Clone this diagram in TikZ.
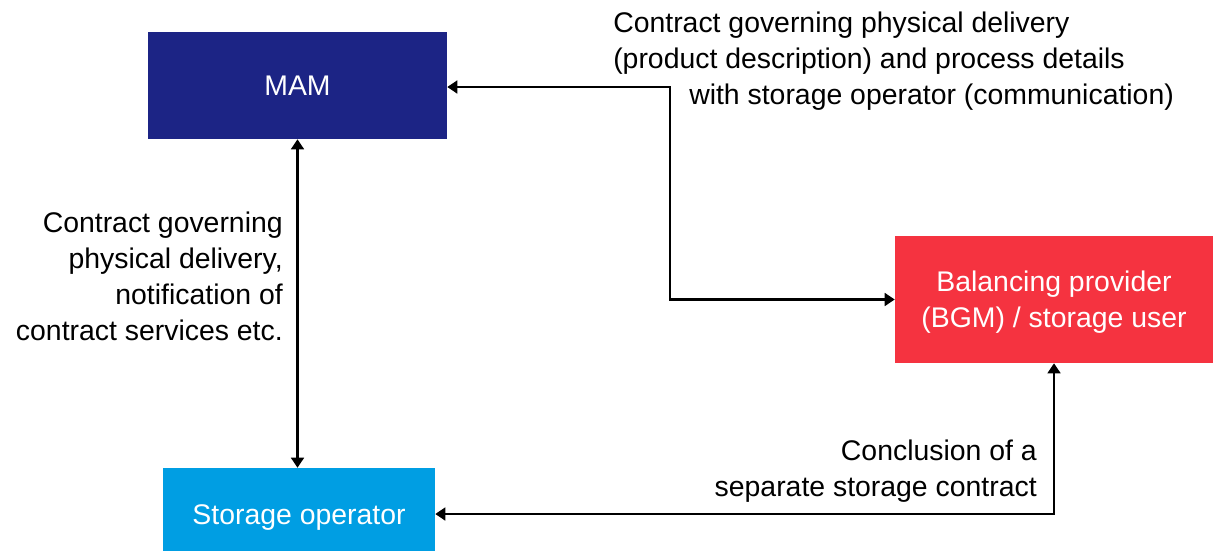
\documentclass[tikz,border=0pt]{standalone}
\usepackage{fontspec}
\setmainfont{Liberation Sans}
\usetikzlibrary{arrows.meta}

\definecolor{mamblue}{rgb}{0.11,0.14,0.52}
\definecolor{bgmred}{rgb}{0.96,0.20,0.25}
\definecolor{storblue}{rgb}{0,0.62,0.89}

\begin{document}
\begin{tikzpicture}[x=0.75pt,y=0.75pt,yscale=-1,xscale=1,
  box/.style={draw=none,text=white,inner sep=0pt,align=center,font=\fontsize{21.3}{27}\selectfont},
  lbl/.style={inner sep=0pt,font=\fontsize{21.3}{27}\selectfont},
  link/.style={line width=2.1pt,{Triangle[length=7.5pt,width=9.5pt]}-{Triangle[length=7.5pt,width=9.5pt]}}]
\useasboundingbox (0,0) rectangle (1213,550);

% Boxes
\node [box,fill=mamblue,minimum width=224.25pt,minimum height=80.25pt] (mam) at (297.5,85.5) {MAM};
\node [box,fill=bgmred,minimum width=238.5pt,minimum height=95.25pt] (bgm) at (1054,299.5) {\rule{0pt}{20pt}Balancing provider\\(BGM) / storage user};
\node [box,fill=storblue,minimum width=204pt,minimum height=75pt] (stor) at (299,518) {Storage operator};

% Connectors
\coordinate (bend) at (670,87);
\draw [link] (mam.east |- bend) -- (bend) |- (bgm.west);
\draw [link] (mam.south) -- (mam.south |- stor.north);
\draw [link] (stor.east |- 0,514) -| (bgm.south);

% Text Node
\node [lbl,anchor=north west,align=left] (toplbl) at (613,12) {Contract governing physical delivery\\(product description) and process details\\\hspace*{57pt}with storage operator (communication)};
% Text Node
\node [lbl,anchor=north east,align=right] (leftlbl) at (283,212) {Contract governing\\physical delivery,\\notification of\\contract services etc.};
% Text Node
\node [lbl,anchor=north east,align=right] (botlbl) at (1037,440) {Conclusion of a\\separate storage contract};

\end{tikzpicture}
\end{document}
